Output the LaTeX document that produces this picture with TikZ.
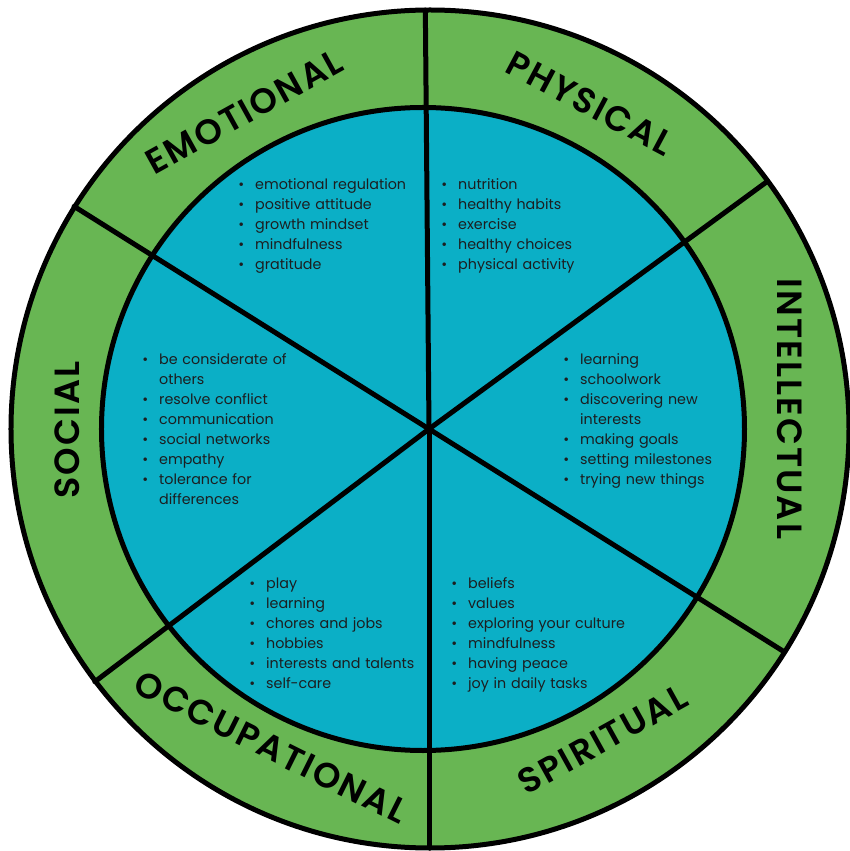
\documentclass[tikz,border=0pt]{standalone}
\usepackage{fontspec}
\setmainfont{Poppins}
\newfontfamily\labelfont{Poppins SemiBold}[LetterSpace=6]
\definecolor{wellgreen}{RGB}{104,182,83}
\definecolor{wellblue}{RGB}{11,175,198}
\definecolor{listgray}{RGB}{28,30,32}

\newcommand\bul{\leavevmode\llap{•\hspace{11pt}}}

\begin{document}
\begin{tikzpicture}[x=1pt, y=1pt,
  ring/.style={line width=5pt},
  spoke/.style={line width=5pt, line cap=round},
  ringlabel/.style={inner sep=0pt, font=\labelfont\fontsize{35}{40}\selectfont},
  items/.style={anchor=base west, inner sep=0pt, text width=220pt, align=left, text=listgray, font=\fontsize{14.3}{20}\selectfont}]
  \useasboundingbox (-429,-422) rectangle (421,429);
  \clip (-429,-422) rectangle (421,429);
  \coordinate (hub) at (0,0);
  \fill[wellgreen] (1,0) circle (419);
  \fill[wellblue] (-6,0) circle (321.5);
  \foreach \a in {90.5,36.2,-32.1,270,217.1,147.9}
    \draw[spoke] (hub) -- (\a:419);
  \draw[ring] (1,0) circle (419);
  \draw[ring] (-6,0) circle (321.5);
  % names of the six areas, set straight across the green ring
  \foreach \ang/\r/\rot/\word in {120.2/367/29/EMOTIONAL, 63.7/363/-28/PHYSICAL, 3.2/361/-90/INTELLECTUAL,
      180.2/361.5/90/SOCIAL, 243.6/355.5/-26.5/OCCUPATIONAL, 299.2/356/29/SPIRITUAL}
    \node[ringlabel, rotate=\rot] (\word) at (\ang:\r) {\word};
  % lists in the six sectors
  \node[items] (emolist) at (-174,239) {\bul emotional regulation\\ \bul positive attitude\\ \bul growth mindset\\ \bul mindfulness\\ \bul gratitude};
  \node[items] (phylist) at (29,239) {\bul nutrition\\ \bul healthy habits\\ \bul exercise\\ \bul healthy choices\\ \bul physical activity};
  \node[items] (intlist) at (151,64) {\bul learning\\ \bul schoolwork\\ \bul discovering new\\ interests\\ \bul making goals\\ \bul setting milestones\\ \bul trying new things};
  \node[items] (soclist) at (-270,64) {\bul be considerate of\\ others\\ \bul resolve conflict\\ \bul communication\\ \bul social networks\\ \bul empathy\\ \bul tolerance for\\ differences};
  \node[items] (occlist) at (-163,-159) {\bul play\\ \bul learning\\ \bul chores and jobs\\ \bul hobbies\\ \bul interests and talents\\ \bul self-care};
  \node[items] (spilist) at (39,-159) {\bul beliefs\\ \bul values\\ \bul exploring your culture\\ \bul mindfulness\\ \bul having peace\\ \bul joy in daily tasks};
\end{tikzpicture}
\end{document}
